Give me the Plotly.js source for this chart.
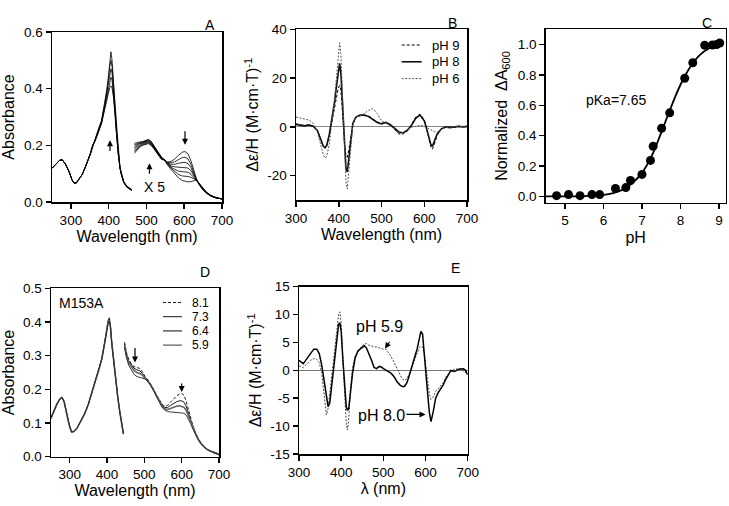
<!DOCTYPE html>
<html>
<head>
<meta charset="utf-8">
<script src="https://cdn.plot.ly/plotly-3.0.1.min.js"></script>
<style>html,body{margin:0;padding:0;background:#fff}#fig{width:729px;height:506px}</style>
</head>
<body>
<div id="fig"></div>
<script>
// ---- Panel A: absorbance titration (Soret + visible x5) ----
const aSoretWl = [250,260,270,277,285,295,303,309,315,320,330,337,345,351,358,364,372,381,390,395,399,403,406,409,413,417,421,425,430,434,440,448,455,461];
const aSoret1 = [0.119,0.135,0.147,0.149,0.135,0.108,0.078,0.066,0.068,0.078,0.097,0.119,0.145,0.166,0.195,0.222,0.254,0.288,0.350,0.395,0.440,0.500,0.530,0.500,0.420,0.330,0.245,0.172,0.118,0.093,0.068,0.052,0.045,0.040];
const aSoret2 = [0.119,0.135,0.147,0.149,0.135,0.108,0.078,0.066,0.068,0.078,0.097,0.119,0.145,0.167,0.197,0.220,0.251,0.285,0.345,0.388,0.428,0.478,0.500,0.478,0.408,0.325,0.243,0.172,0.119,0.094,0.069,0.053,0.046,0.041];
const aSoret3 = [0.119,0.135,0.147,0.149,0.135,0.108,0.078,0.066,0.068,0.078,0.097,0.119,0.145,0.168,0.199,0.218,0.248,0.282,0.340,0.380,0.415,0.455,0.470,0.455,0.395,0.318,0.240,0.172,0.120,0.095,0.070,0.054,0.047,0.042];
const aSoret4 = [0.119,0.135,0.147,0.149,0.135,0.108,0.078,0.066,0.068,0.078,0.097,0.119,0.146,0.169,0.201,0.216,0.245,0.279,0.335,0.372,0.402,0.430,0.440,0.430,0.382,0.311,0.237,0.172,0.121,0.096,0.071,0.055,0.048,0.043];
const aSoret5 = [0.119,0.135,0.147,0.149,0.135,0.108,0.078,0.066,0.068,0.078,0.097,0.119,0.146,0.170,0.203,0.214,0.242,0.276,0.330,0.364,0.388,0.405,0.410,0.402,0.368,0.304,0.234,0.172,0.122,0.097,0.072,0.056,0.049,0.044];

const aVisWl = [468,475,482,490,497,505,512,520,530,540,548,555,565,575,585,595,602,610,618,625,632,640,650,660,670,680,690,700];
const aVis1 = [0.172,0.183,0.193,0.200,0.204,0.206,0.200,0.188,0.168,0.150,0.148,0.141,0.143,0.152,0.165,0.176,0.178,0.170,0.145,0.110,0.083,0.060,0.042,0.030,0.021,0.016,0.013,0.011];
const aVis2 = [0.178,0.188,0.196,0.202,0.206,0.209,0.203,0.190,0.170,0.152,0.148,0.140,0.138,0.142,0.150,0.157,0.158,0.152,0.132,0.104,0.081,0.061,0.043,0.031,0.022,0.016,0.013,0.011];
const aVis3 = [0.184,0.193,0.200,0.205,0.209,0.212,0.206,0.192,0.172,0.153,0.148,0.139,0.133,0.133,0.137,0.140,0.140,0.136,0.121,0.098,0.080,0.062,0.044,0.031,0.022,0.016,0.013,0.011];
const aVis4 = [0.190,0.198,0.204,0.208,0.211,0.214,0.208,0.194,0.174,0.155,0.148,0.138,0.127,0.124,0.123,0.123,0.123,0.120,0.110,0.092,0.079,0.063,0.045,0.032,0.022,0.016,0.013,0.011];
const aVis5 = [0.196,0.202,0.207,0.210,0.213,0.217,0.211,0.196,0.175,0.156,0.148,0.136,0.123,0.115,0.109,0.107,0.107,0.105,0.098,0.087,0.078,0.064,0.046,0.032,0.023,0.017,0.013,0.011];
const aVis6 = [0.202,0.206,0.210,0.212,0.215,0.219,0.213,0.198,0.177,0.157,0.148,0.134,0.119,0.107,0.097,0.092,0.092,0.090,0.087,0.081,0.078,0.065,0.046,0.033,0.023,0.017,0.013,0.011];
const aVis7 = [0.207,0.210,0.212,0.213,0.217,0.221,0.215,0.200,0.178,0.158,0.148,0.132,0.115,0.100,0.085,0.076,0.073,0.071,0.072,0.075,0.077,0.065,0.047,0.033,0.023,0.017,0.013,0.011];

// ---- Panel B: MCD at three pH values ----
const bWl = [300,310,320,330,340,350,358,364,368,372,378,384,390,395,399,402,405,408,411,414,417,420,424,428,433,440,450,460,470,480,490,500,510,520,530,540,550,560,570,580,590,600,605,610,615,619,624,630,640,650,660,670,680,690,700];
const bPh9 = [1.2,0.8,0.5,0.6,0.2,-1.5,-5.0,-8.0,-8.8,-7.8,-3.5,2.0,8.0,13.0,16.0,17.0,15.0,8.0,-1.0,-8.0,-12.0,-12.5,-9.0,-3.5,1.0,3.8,4.6,4.8,4.5,3.2,2.0,1.5,1.8,0.8,-1.0,-2.8,-3.0,-1.5,1.0,4.0,5.2,3.0,0.0,-4.5,-8.0,-9.2,-7.0,-3.5,-1.0,-0.2,0.0,-0.2,0.3,0.0,0.0];
const bPh8 = [1.0,0.8,0.4,0.8,0.3,-1.5,-5.0,-8.0,-8.5,-7.5,-3.0,3.0,10.0,17.0,23.0,26.0,22.0,12.0,0.0,-10.0,-17.5,-18.5,-12.0,-4.0,1.5,4.0,4.8,4.8,4.2,3.0,1.8,1.2,1.8,1.0,-0.5,-2.0,-2.5,-1.5,0.5,3.5,4.8,2.5,-0.5,-4.0,-7.0,-8.0,-6.0,-3.0,-0.8,0.0,-0.3,0.0,0.2,0.0,0.2];
const bPh6 = [4.0,3.5,3.0,2.8,1.5,-2.0,-7.5,-11.5,-12.8,-12.0,-7.0,1.0,11.0,21.0,30.0,34.5,30.0,16.0,2.0,-12.0,-23.0,-25.5,-17.0,-6.0,1.0,4.0,4.5,5.5,6.8,7.5,5.5,2.5,1.5,0.5,-1.0,-3.0,-2.5,-1.0,-0.2,0.2,0.6,0.3,-0.3,-0.8,-1.2,-1.5,-2.0,-2.2,-1.0,-0.3,0.0,0.0,0.2,0.0,0.0];
const bNames = ["pH 9", "pH 8", "pH 6"];
const bTickVals = [-20,0,20,40];
const bTickText = ["-20","0","20","40"];

// ---- Panel C: pH titration at 600 nm ----
const cPh = [4.48,4.78,5.09,5.39,5.70,5.90,6.31,6.58,6.70,7.00,7.22,7.29,7.51,7.72,8.11,8.32,8.63,8.83,8.94,9.02];
const cVal = [0.0,0.005,0.012,0.005,0.012,0.012,0.052,0.058,0.105,0.145,0.237,0.330,0.449,0.550,0.778,0.880,0.995,0.997,1.0,1.01];
const cFitPh = [4.5,5.0,5.5,6.0,6.25,6.5,6.75,7.0,7.25,7.5,7.75,8.0,8.25,8.5,8.75,9.0];
const cFitVal = [0.0,0.0,0.002,0.01,0.022,0.045,0.088,0.155,0.265,0.42,0.585,0.735,0.85,0.93,0.975,0.995];

// ---- Panel D: M153A absorbance ----
const dSoretWl = [250,258,266,273,279,285,292,299,305,312,320,330,340,350,358,364,370,378,386,393,399,403,406,409,413,418,423,429,435,440,444];
const dSoret81 = [0.113,0.135,0.158,0.172,0.178,0.165,0.128,0.092,0.073,0.075,0.085,0.104,0.127,0.155,0.185,0.210,0.228,0.255,0.290,0.335,0.380,0.405,0.414,0.392,0.337,0.280,0.228,0.175,0.128,0.095,0.067];
const dSoret73 = [0.114,0.136,0.158,0.171,0.177,0.165,0.128,0.093,0.073,0.075,0.085,0.104,0.127,0.155,0.185,0.210,0.228,0.255,0.290,0.334,0.378,0.402,0.410,0.390,0.336,0.279,0.227,0.175,0.128,0.095,0.068];
const dSoret64 = [0.115,0.137,0.157,0.170,0.176,0.164,0.127,0.093,0.074,0.075,0.085,0.104,0.127,0.155,0.186,0.211,0.229,0.256,0.290,0.333,0.376,0.399,0.406,0.388,0.335,0.279,0.227,0.175,0.128,0.095,0.068];
const dSoret59 = [0.116,0.138,0.157,0.169,0.175,0.164,0.127,0.094,0.074,0.076,0.086,0.105,0.128,0.156,0.186,0.211,0.229,0.256,0.290,0.332,0.374,0.396,0.403,0.386,0.334,0.278,0.226,0.175,0.128,0.095,0.069];
const dVisWl = [447,452,458,465,472,480,488,495,502,510,518,525,532,540,548,555,562,570,578,586,594,600,606,612,618,624,630,637,644,651,658,665,672,680,688,695,700];
const dVis81 = [0.340,0.310,0.290,0.275,0.268,0.265,0.262,0.252,0.238,0.228,0.215,0.200,0.185,0.168,0.155,0.150,0.152,0.162,0.172,0.180,0.186,0.188,0.183,0.165,0.140,0.115,0.092,0.070,0.055,0.042,0.034,0.023,0.022,0.013,0.014,0.008,0.006];
const dVis73 = [0.335,0.305,0.285,0.272,0.263,0.258,0.255,0.247,0.235,0.226,0.213,0.198,0.183,0.166,0.152,0.146,0.146,0.152,0.158,0.163,0.166,0.166,0.162,0.150,0.130,0.108,0.088,0.068,0.053,0.041,0.031,0.026,0.018,0.016,0.010,0.011,0.007];
const dVis64 = [0.330,0.300,0.280,0.266,0.256,0.250,0.247,0.242,0.233,0.225,0.212,0.197,0.181,0.164,0.149,0.142,0.140,0.143,0.147,0.150,0.151,0.150,0.147,0.138,0.122,0.103,0.085,0.067,0.052,0.040,0.031,0.024,0.019,0.015,0.012,0.009,0.006];
const dVis59 = [0.325,0.295,0.272,0.256,0.245,0.238,0.236,0.235,0.231,0.224,0.211,0.196,0.180,0.162,0.146,0.138,0.134,0.133,0.132,0.132,0.132,0.131,0.129,0.124,0.113,0.098,0.082,0.065,0.051,0.040,0.030,0.024,0.019,0.015,0.011,0.009,0.005];
const dNames = ["8.1", "7.3", "6.4", "5.9"];

// ---- Panel E: M153A MCD ----
const eWl = [300,305,310,315,320,327,335,342,348,354,360,365,369,373,378,384,390,394,397,400,404,408,412,415,418,422,427,433,440,448,455,460,466,472,478,484,490,495,500,506,512,518,525,532,539,545,550,556,562,568,574,580,585,589,593,597,601,605,609,613,618,624,630,636,642,648,654,660,666,672,678,684,690,695,700];
const ePh80 = [1.8,1.5,1.2,1.7,2.2,3.0,3.8,3.8,3.0,0.9,-2.0,-5.0,-6.5,-5.8,-2.5,2.5,6.5,8.3,8.5,7.0,2.0,-3.0,-6.5,-7.2,-6.8,-4.0,-0.5,2.2,3.5,4.0,4.4,4.0,3.0,1.8,0.5,0.3,0.7,0.6,0.3,0.0,-0.2,-0.5,-1.1,-2.0,-2.6,-2.9,-2.9,-2.2,-0.8,1.0,2.3,3.8,5.5,7.0,6.5,2.5,-1.0,-4.1,-7.5,-9.2,-7.5,-5.0,-4.0,-3.4,-2.6,-1.6,-0.8,0.0,-0.2,-0.1,0.2,0.3,0.3,0.0,-0.8];
const ePh59 = [0.8,0.6,0.5,0.9,1.2,1.8,2.1,2.0,1.4,-0.5,-5.0,-8.0,-6.8,-4.0,-0.5,4.0,8.2,10.0,10.5,8.5,2.0,-4.0,-9.5,-10.7,-8.5,-3.5,0.5,2.5,3.3,4.3,4.7,4.8,4.5,4.3,4.2,4.2,4.0,3.9,3.8,3.8,3.2,2.5,1.5,0.3,-0.8,-1.6,-1.8,-1.5,-0.5,0.7,1.8,3.0,4.0,4.3,4.2,3.0,0.5,-2.0,-4.2,-5.2,-4.8,-3.8,-3.2,-2.7,-2.2,-1.2,-0.6,-0.2,0.1,0.3,0.1,0.3,-0.2,-0.4,-0.6];
const eTickVals = [-15,-10,-5,0,5,10,15];
const eTickText = ["-15","-10","-5","0","5","10","15"];

const FONT = "Liberation Sans, Arial, sans-serif";
const W = 729, H = 506;
const px = v => v / W;
const py = v => 1 - v / H;

function axis(dom, range, anchor, opts) {
  return Object.assign({
    domain: dom, range: range, anchor: anchor,
    showline: true, linecolor: "#000", linewidth: 1.5, mirror: true,
    ticks: "outside", ticklen: 5, tickwidth: 1.5, tickcolor: "#000",
    showgrid: false, zeroline: false, fixedrange: true,
    tickfont: { family: FONT, size: 13.5, color: "#000" }
  }, opts);
}
function ttl(text, standoff) {
  return { text: text, standoff: standoff, font: { family: FONT, size: 16, color: "#000" } };
}

function line(x, y, xa, ya, style) {
  return { x: x, y: y, xaxis: xa, yaxis: ya, type: "scatter", mode: "lines",
    line: style, showlegend: false, hoverinfo: "skip", connectgaps: false };
}

const thin = { color: "#000", width: 0.8 };
const traces = [];
[aSoret1, aSoret2, aSoret3, aSoret4, aSoret5].forEach(s => traces.push(line(aSoretWl, s, "x", "y", thin)));
[aVis1, aVis2, aVis3, aVis4, aVis5, aVis6, aVis7].forEach(s => traces.push(line(aVisWl, s, "x", "y", thin)));

// panel B curves and their styles
const bStyles = [
  { color: "#000", width: 1, dash: "3px,2px" },
  { color: "#111", width: 1.6 },
  { color: "#555", width: 1, dash: "2px,1.5px" }
];
[bPh9, bPh8, bPh6].forEach((s, i) => traces.push(line(bWl, s, "x2", "y2", bStyles[i])));

traces.push(line(cFitPh, cFitVal, "x3", "y3", { color: "#000", width: 1.8, shape: "spline" }));
traces.push({ x: cPh, y: cVal, xaxis: "x3", yaxis: "y3", type: "scatter", mode: "markers",
  marker: { color: "#000", size: 9 }, cliponaxis: false, showlegend: false, hoverinfo: "skip" });

const gap = [null];
const dStyles = [
  { color: "#000", width: 0.9, dash: "3px,2px" },
  { color: "#000", width: 0.9 },
  { color: "#666", width: 1.6 },
  { color: "#222", width: 0.9 }
];
[[dSoret81, dVis81], [dSoret73, dVis73], [dSoret64, dVis64], [dSoret59, dVis59]].forEach(([sor, vis], i) => {
  traces.push(line(dSoretWl.concat(gap, dVisWl), sor.concat(gap, vis), "x4", "y4", dStyles[i]));
});

traces.push(line(eWl, ePh59, "x5", "y5", { color: "#444", width: 1, dash: "2px,1.5px" }));
traces.push(line(eWl, ePh80, "x5", "y5", { color: "#000", width: 1.5 }));

const wlTicks = [300, 400, 500, 600, 700];
const layout = {
  width: W, height: H, margin: { l: 0, r: 0, t: 0, b: 0 },
  paper_bgcolor: "#fff", plot_bgcolor: "rgba(0,0,0,0)",
  font: { family: FONT, color: "#000", size: 13 },
  showlegend: false,
  xaxis: axis([px(52), px(222)], [250, 700], "y", { tickvals: wlTicks, title: ttl("Wavelength (nm)", 4) }),
  yaxis: axis([py(202), py(32)], [0, 0.6], "x", { tickvals: [0, 0.2, 0.4, 0.6], tickformat: ".1f", title: ttl("Absorbance", 6) }),
  xaxis2: axis([px(296), px(467)], [300, 700], "y2", { tickvals: wlTicks, title: ttl("Wavelength (nm)", 4) }),
  yaxis2: axis([py(200), py(29.3)], [-30, 40], "x2", { tickvals: bTickVals, ticktext: bTickText,
    zeroline: true, zerolinecolor: "#888", zerolinewidth: 1.2, title: ttl("\u0394\u03b5/H (M\u00b7cm\u00b7T)<sup>-1</sup>", 4) }),
  xaxis3: axis([px(545.8), px(725.5)], [4.5, 9.17], "y3", { tickvals: [5, 6, 7, 8, 9], title: ttl("pH", 4) }),
  yaxis3: axis([py(202.5), py(29.3)], [-0.04, 1.1], "x3", { tickvals: [0, 0.2, 0.4, 0.6, 0.8, 1.0], tickformat: ".1f", title: ttl("Normalized  \u0394A<sub>600</sub>", 6) }),
  xaxis4: axis([px(51), px(219)], [250, 700], "y4", { tickvals: wlTicks, title: ttl("Wavelength (nm)", 2) }),
  yaxis4: axis([py(456.7), py(288.3)], [0, 0.5], "x4", { tickvals: [0, 0.1, 0.2, 0.3, 0.4, 0.5], tickformat: ".1f", title: ttl("Absorbance", 6) }),
  xaxis5: axis([px(299), px(467.7)], [300, 700], "y5", { tickvals: wlTicks, title: ttl("\u03bb (nm)", 2) }),
  yaxis5: axis([py(454), py(286.7)], [-15, 15], "x5", { tickvals: eTickVals, ticktext: eTickText,
    zeroline: true, zerolinecolor: "#777", zerolinewidth: 1, title: ttl("\u0394\u03b5/H (M\u00b7cm\u00b7T)<sup>-1</sup>", 4) }),
  annotations: [],
  shapes: []
};

function arrow(xr, yr, x, y, ax, ay) {
  return { xref: xr, yref: yr, axref: xr, ayref: yr, x: x, y: y, ax: ax, ay: ay, text: "",
    showarrow: true, arrowhead: 2, arrowsize: 1, arrowwidth: 1.2, arrowcolor: "#000" };
}
function label(xr, yr, x, y, text, size, xanchor) {
  return { xref: xr, yref: yr, x: x, y: y, text: text, showarrow: false, xanchor: xanchor || "center",
    font: { family: FONT, size: size, color: "#000" } };
}
// small hand-placed legends (sample line + label), positioned in pixels
function legend(names, styles, x0, x1, xText, yTop, step, size) {
  names.forEach((n, i) => {
    const y = py(yTop + i * step);
    layout.shapes.push({ type: "line", xref: "paper", yref: "paper", x0: px(x0), x1: px(x1), y0: y, y1: y, line: styles[i] });
    const lab = label("paper", "paper", px(xText), y, n, size, "left");
    lab.borderpad = 0;
    lab.yanchor = "middle";
    layout.annotations.push(lab);
  });
}
legend(bNames, bStyles, 401.7, 421.7, 431, 45, 16.8, 13);
legend(dNames, dStyles, 163, 182, 191, 302.5, 14.2, 12);

layout.annotations.push(
  arrow("x", "y", 403.5, 0.218, 403.5, 0.175),
  arrow("x", "y", 508, 0.137, 508, 0.094),
  arrow("x", "y", 602, 0.202, 602, 0.255),
  label("x", "y", 521, 0.052, "X 5", 14),
  label("x3", "y3", 6.35, 0.633, "pKa=7.65", 14),
  arrow("x4", "y4", 475, 0.28, 475, 0.327),
  arrow("x4", "y4", 600, 0.192, 600, 0.222),
  label("x4", "y4", 332, 0.455, "M153A", 14),
  label("x5", "y5", 492, 7.95, "pH 5.9", 16),
  arrow("x5", "y5", 504, 3.9, 517, 5.4),
  label("x5", "y5", 496, -8.1, "pH 8.0", 16),
  arrow("x5", "y5", 600, -7.9, 551, -7.9),
  label("paper", "paper", px(210), py(15), "A", 14),
  label("paper", "paper", px(453), py(13.5), "B", 14),
  label("paper", "paper", px(706.7), py(13.5), "C", 14),
  label("paper", "paper", px(205), py(271.7), "D", 14),
  label("paper", "paper", px(455), py(268.3), "E", 14)
);

Plotly.newPlot("fig", traces, layout, { displayModeBar: false, staticPlot: true });
</script>
</body>
</html>
